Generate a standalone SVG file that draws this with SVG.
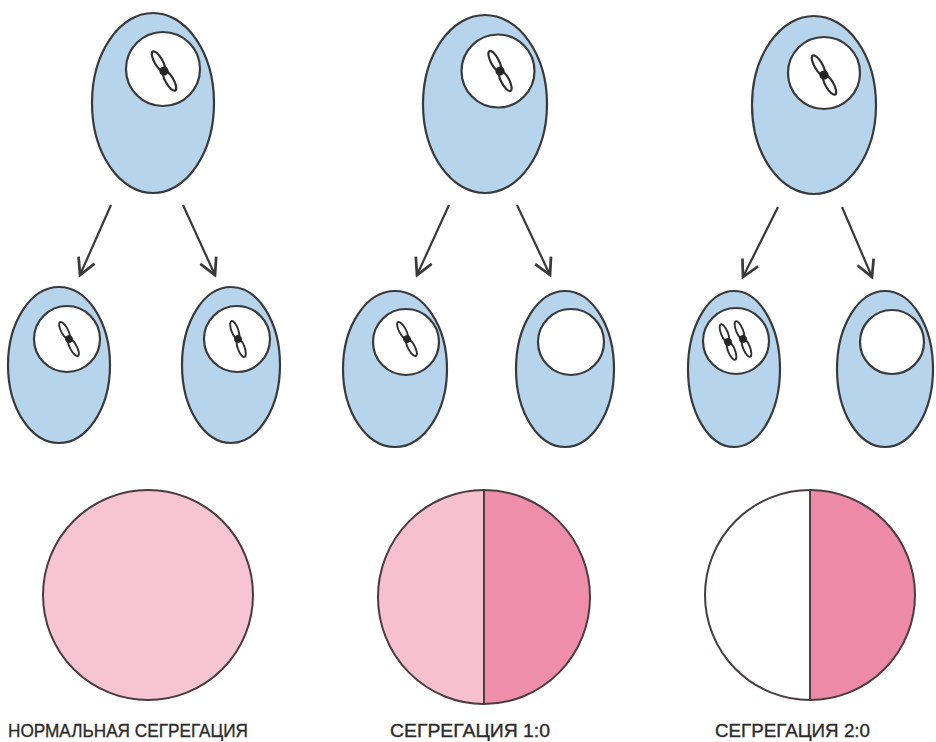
<svg xmlns="http://www.w3.org/2000/svg" xmlns:xlink="http://www.w3.org/1999/xlink" width="936" height="742" viewBox="0 0 936 742">
  <style>
    .cell { fill: #b6d4ec; stroke: #3a3a3a; stroke-width: 2.2; }
    .nucleus { fill: #ffffff; stroke: #3a3a3a; stroke-width: 2.2; }
    .arm { fill: #ffffff; stroke: #2e2e2e; stroke-width: 2.2; }
    .centromere { fill: #262626; }
    .pie { stroke: #4a3c40; stroke-width: 2; }
    .split { stroke: #4a3c40; stroke-width: 2; fill: none; }
    .arrow { stroke: #3a3a3a; stroke-width: 2.2; fill: none; marker-end: url(#head); }
    .label { font-family: "Liberation Sans", "DejaVu Sans", Arial, sans-serif; font-size: 19px; fill: #2b2b2b; stroke: #2b2b2b; stroke-width: 0.35; }
  </style>
  <defs>
    <marker id="head" markerUnits="userSpaceOnUse" markerWidth="20" markerHeight="20" refX="14" refY="8" orient="auto" viewBox="0 0 16 16">
      <path d="M1,1 L14,8 L1,15" fill="none" stroke="#3a3a3a" stroke-width="2.2" stroke-linejoin="miter"/>
    </marker>
    <!-- single chromosome: two arms joined at a centromere -->
    <g id="chrom">
      <ellipse class="arm" cx="0" cy="-11" rx="4" ry="11.5"/>
      <ellipse class="arm" cx="0" cy="11" rx="4" ry="11.5"/>
      <circle class="centromere" cx="0" cy="0" r="4.6"/>
    </g>
  </defs>

  <!-- row 1: parent cells -->
  <g id="parent-normal">
    <ellipse class="cell" cx="153" cy="103" rx="61" ry="90"/>
    <circle class="nucleus" cx="163" cy="69" r="37"/>
    <use xlink:href="#chrom" transform="translate(164,71) rotate(-30)"/>
  </g>
  <g id="parent-1-0">
    <ellipse class="cell" cx="485" cy="104" rx="62" ry="89"/>
    <circle class="nucleus" cx="498" cy="71" r="36.5"/>
    <use xlink:href="#chrom" transform="translate(500,71) rotate(-28)"/>
  </g>
  <g id="parent-2-0">
    <ellipse class="cell" cx="814" cy="105" rx="62" ry="89"/>
    <circle class="nucleus" cx="824" cy="73" r="36"/>
    <use xlink:href="#chrom" transform="translate(824,75) rotate(-30)"/>
  </g>

  <!-- arrows -->
  <g id="connectors">
    <line class="arrow" x1="111" y1="205" x2="80" y2="275"/>
    <line class="arrow" x1="183" y1="205" x2="215" y2="275"/>
    <line class="arrow" x1="449" y1="205" x2="417" y2="275"/>
    <line class="arrow" x1="517" y1="205" x2="550" y2="275"/>
    <line class="arrow" x1="778" y1="207" x2="743" y2="277"/>
    <line class="arrow" x1="842" y1="207" x2="872" y2="277"/>
  </g>

  <!-- row 2: daughter cells -->
  <g id="daughter-a">
    <ellipse class="cell" cx="59" cy="365" rx="51" ry="78"/>
    <circle class="nucleus" cx="67" cy="339" r="33"/>
    <use xlink:href="#chrom" transform="translate(69,339) rotate(-28) scale(0.85)"/>
  </g>
  <g id="daughter-b">
    <ellipse class="cell" cx="231" cy="365" rx="49" ry="78"/>
    <circle class="nucleus" cx="237" cy="339" r="33"/>
    <use xlink:href="#chrom" transform="translate(238,339) rotate(-20) scale(0.85)"/>
  </g>
  <g id="daughter-c">
    <ellipse class="cell" cx="395" cy="369" rx="52" ry="78"/>
    <circle class="nucleus" cx="406" cy="342" r="33"/>
    <use xlink:href="#chrom" transform="translate(407,339) rotate(-28) scale(0.85)"/>
  </g>
  <g id="daughter-d">
    <ellipse class="cell" cx="565" cy="369" rx="49" ry="78"/>
    <circle class="nucleus" cx="571" cy="342" r="33"/>
  </g>
  <g id="daughter-e">
    <ellipse class="cell" cx="734" cy="369" rx="46" ry="78"/>
    <circle class="nucleus" cx="736" cy="341" r="33"/>
    <use xlink:href="#chrom" transform="translate(728,342) rotate(-22) scale(0.85)"/>
    <use xlink:href="#chrom" transform="translate(743,339) rotate(-22) scale(0.85)"/>
  </g>
  <g id="daughter-f">
    <ellipse class="cell" cx="885" cy="369" rx="48" ry="78"/>
    <circle class="nucleus" cx="892" cy="342" r="32"/>
  </g>

  <!-- row 3: outcome circles -->
  <g id="pie-normal">
    <circle class="pie" cx="148" cy="595" r="105" fill="#f6c4d3"/>
  </g>
  <g id="pie-1-0">
    <path d="M484,490 A106,107 0 0,0 484,704 Z" fill="#f6c0d1"/>
    <path d="M484,490 A106,107 0 0,1 484,704 Z" fill="#ee8eab"/>
    <ellipse class="pie" cx="484" cy="597" rx="106" ry="107" fill="none"/>
    <line class="split" x1="484" y1="490" x2="484" y2="704"/>
  </g>
  <g id="pie-2-0">
    <path d="M810,490 A105,105 0 0,0 810,700 Z" fill="#ffffff"/>
    <path d="M810,490 A105,105 0 0,1 810,700 Z" fill="#ed8aa8"/>
    <circle class="pie" cx="810" cy="595" r="105" fill="none"/>
    <line class="split" x1="810" y1="490" x2="810" y2="700"/>
  </g>

  <!-- captions -->
  <g id="captions">
    <text class="label" x="8" y="737" textLength="240" lengthAdjust="spacingAndGlyphs">НОРМАЛЬНАЯ СЕГРЕГАЦИЯ</text>
    <text class="label" x="390" y="737" textLength="160" lengthAdjust="spacingAndGlyphs">СЕГРЕГАЦИЯ 1:0</text>
    <text class="label" x="715" y="737" textLength="155" lengthAdjust="spacingAndGlyphs">СЕГРЕГАЦИЯ 2:0</text>
  </g>
</svg>
